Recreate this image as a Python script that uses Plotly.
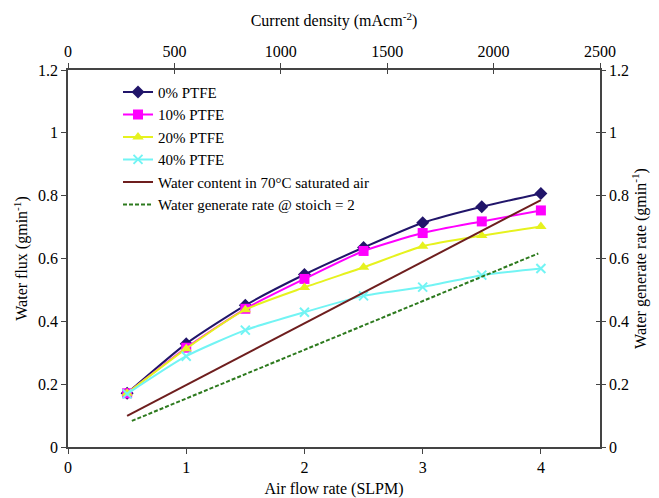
import plotly.graph_objects as go

# ---- data ----
air_flow = [0.5, 1.0, 1.5, 2.0, 2.5, 3.0, 3.5, 4.0]
ptfe_0 = [0.171, 0.329, 0.451, 0.549, 0.635, 0.714, 0.765, 0.807]
ptfe_10 = [0.171, 0.316, 0.440, 0.535, 0.624, 0.681, 0.718, 0.753]
ptfe_20 = [0.171, 0.313, 0.437, 0.508, 0.572, 0.639, 0.673, 0.702]
ptfe_40 = [0.169, 0.289, 0.372, 0.429, 0.481, 0.509, 0.547, 0.568]

sat_air_flow = [0.5, 4.0]
sat_water = [0.099, 0.786]

current_density = [300, 2210]
gen_rate = [0.083, 0.616]

x_ticks = [0, 1, 2, 3, 4]
top_ticks = [0, 500, 1000, 1500, 2000, 2500]
y_ticks = [0, 0.2, 0.4, 0.6, 0.8, 1.0, 1.2]

FONT = "Liberation Serif"
AXC = "#444444"

fig = go.Figure()

series = [
    ("0% PTFE", ptfe_0, "#21156A", dict(symbol="diamond", size=10)),
    ("10% PTFE", ptfe_10, "#FF00FF", dict(symbol="square", size=10)),
    ("20% PTFE", ptfe_20, "#E6F21E", dict(symbol="triangle-up", size=10)),
    ("40% PTFE", ptfe_40, "#72F4F4", dict(symbol="x-thin", size=9)),
]
for name, vals, col, mk in series:
    marker = dict(color=col, **mk)
    if mk["symbol"] == "x-thin":
        marker["line"] = dict(color=col, width=2)
    fig.add_trace(go.Scatter(
        x=air_flow, y=vals, name=name, mode="lines+markers",
        line=dict(color=col, width=2, shape="spline", smoothing=0.6),
        marker=marker, xaxis="x", yaxis="y"))

fig.add_trace(go.Scatter(
    x=sat_air_flow, y=sat_water, name="Water content in 70°C saturated air",
    mode="lines", line=dict(color="#6E1E1E", width=2), xaxis="x", yaxis="y"))

fig.add_trace(go.Scatter(
    x=current_density, y=gen_rate, name="Water generate rate @ stoich = 2",
    mode="lines", line=dict(color="#2D7A1E", width=2, dash="4px,2px"),
    xaxis="x2", yaxis="y2"))

# empty helper trace for crossing-tick overlay axes
fig.add_trace(go.Scatter(x=[], y=[], showlegend=False, xaxis="x3", yaxis="y3", hoverinfo="skip"))

tickfont = dict(family=FONT, size=16, color="black")
titlefont = dict(family=FONT, size=16, color="black")

common = dict(showgrid=False, zeroline=False, automargin=False)

# page body has an 8px default margin, so the figure is sized to fit inside the window
fig.update_layout(
    width=651, height=490,
    margin=dict(l=60, r=59, t=62, b=51),
    paper_bgcolor="white", plot_bgcolor="white",
    font=dict(family=FONT, size=14, color="black"),
    showlegend=True,
    legend=dict(x=0.094, y=0.985, xanchor="left", yanchor="top",
                bgcolor="rgba(0,0,0,0)", font=dict(family=FONT, size=15, color="black"),
                tracegroupgap=0),
    xaxis=dict(range=[0, 4.5], tickvals=x_ticks, ticks="outside", ticklen=5,
               tickcolor=AXC, showline=True, linecolor=AXC, linewidth=1.5,
               tickfont=tickfont, **common,
               title=dict(text="Air flow rate (SLPM)", font=titlefont, standoff=8)),
    xaxis2=dict(range=[0, 2500], tickvals=top_ticks, overlaying="x", side="top", anchor="y",
                ticks="outside", ticklen=5, tickcolor=AXC, showline=True,
                linecolor=AXC, linewidth=1.5, tickfont=tickfont, **common,
                title=dict(text="Current density (mAcm<sup>-2</sup>)", font=titlefont, standoff=12)),
    xaxis3=dict(range=[0, 2500], tickvals=top_ticks, overlaying="x", side="top", anchor="y",
                ticks="inside", ticklen=4, tickcolor=AXC, showline=False,
                showticklabels=False, **common),
    yaxis=dict(range=[0, 1.2], tickvals=y_ticks, ticks="outside", ticklen=5,
               tickcolor=AXC, showline=True, linecolor=AXC, linewidth=1.5,
               tickfont=tickfont, **common,
               title=dict(text="Water flux (gmin<sup>-1</sup>)", font=titlefont, standoff=6)),
    yaxis2=dict(range=[0, 1.2], tickvals=y_ticks, overlaying="y", side="right", anchor="x",
                ticks="outside", ticklen=4, tickcolor=AXC, showline=True,
                linecolor=AXC, linewidth=1.5, tickfont=tickfont, **common,
                title=dict(text="Water generate rate (gmin<sup>-1</sup>)", font=titlefont, standoff=6)),
    yaxis3=dict(range=[0, 1.2], tickvals=y_ticks, overlaying="y", side="right", anchor="x",
                ticks="inside", ticklen=4, tickcolor=AXC, showline=False,
                showticklabels=False, **common),
)

fig.write_html("out.html")
